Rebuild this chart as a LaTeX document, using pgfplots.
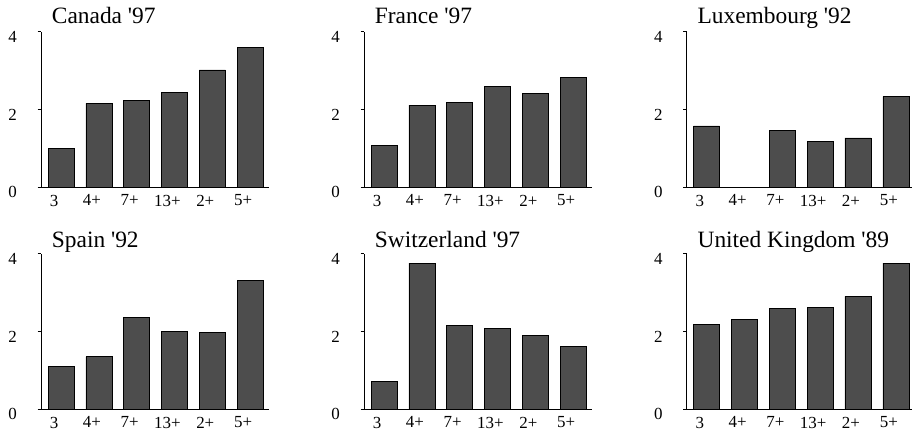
\documentclass[border=0pt]{standalone}
\usepackage{fontspec}
\setmainfont{Liberation Serif}[Ligatures=TeXOff]
\usepackage{pgfplots}
\pgfplotsset{compat=1.18}
\definecolor{barfill}{RGB}{77,77,77}
\pgfplotsset{panel/.style={
  scale only axis, width=228bp, height=155.6bp,
  xmin=-0.53, xmax=5.5, ymin=0, ymax=4,
  axis lines=left, axis line style={-, line width=0.8bp, black},
  ytick={0,2,4}, xtick={0,...,5}, xticklabels={3,4+,7+,13+,2+,5+},
  tick align=outside, major tick length=3.3bp,
  xtick style={draw=none}, ytick style={line width=0.8bp, black},
  /pgf/number format/assume math mode=true,
  tick label style={font=\fontsize{17}{17}\selectfont},
  xticklabel style={font=\fontsize{17}{17}\selectfont, inner sep=0pt, anchor=north, xshift=-7bp, yshift=-4bp},
  yticklabel style={font=\fontsize{17}{17}\selectfont, inner sep=0pt, anchor=east, xshift=-20.7bp, yshift=-5bp},
  ybar, bar width=26bp,
  anchor=south west,
  every axis title shift=0pt,
  title style={at={(0,1)}, anchor=base west, inner sep=0pt, xshift=10.7bp, font=\fontsize{23.5}{23.5}\selectfont},
  clip=false,
},
barst/.style={fill=barfill, draw=black, line width=0.6bp}}
\begin{document}
\begin{tikzpicture}
\begin{axis}[panel, at={(41bp,-187.3bp)}, title={Canada '97}, title style={yshift=8.4bp}]
\addplot[barst] coordinates {(0,1.00) (1,2.16) (2,2.23) (3,2.44) (4,3.02) (5,3.60)};
\end{axis}
\begin{axis}[panel, at={(364bp,-187.3bp)}, title={France '97}, title style={yshift=8.4bp}]
\addplot[barst] coordinates {(0,1.07) (1,2.11) (2,2.19) (3,2.60) (4,2.42) (5,2.83)};
\end{axis}
\begin{axis}[panel, at={(686.7bp,-187.3bp)}, title={Luxembourg '92}, title style={yshift=8.4bp}]
\addplot[barst] coordinates {(0,1.58) (1,0) (2,1.46) (3,1.17) (4,1.27) (5,2.33)};
\end{axis}
\begin{axis}[panel, at={(41bp,-409.3bp)}, title={Spain '92}, title style={yshift=6.6bp}]
\addplot[barst] coordinates {(0,1.11) (1,1.35) (2,2.36) (3,2.01) (4,1.97) (5,3.32)};
\end{axis}
\begin{axis}[panel, at={(364bp,-409.3bp)}, title={Switzerland '97}, title style={yshift=6.6bp}]
\addplot[barst] coordinates {(0,0.71) (1,3.76) (2,2.15) (3,2.09) (4,1.90) (5,1.62)};
\end{axis}
\begin{axis}[panel, at={(686.7bp,-409.3bp)}, title={United Kingdom '89}, title style={yshift=6.6bp}]
\addplot[barst] coordinates {(0,2.19) (1,2.32) (2,2.59) (3,2.62) (4,2.90) (5,3.76)};
\end{axis}
\pgfresetboundingbox
\path[use as bounding box] (0,0) rectangle (912bp,-430bp);
\end{tikzpicture}
\end{document}
